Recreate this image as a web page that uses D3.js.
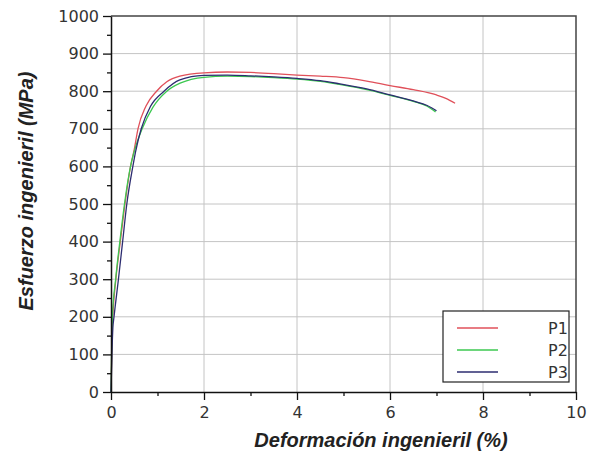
<!DOCTYPE html>
<html>
<head>
<meta charset="utf-8">
<script src="https://cdn.jsdelivr.net/npm/d3@7"></script>
<style>
  html, body { margin: 0; padding: 0; background: #fff; }
  svg { display: block; font-family: "Liberation Sans", Arial, sans-serif; }
</style>
</head>
<body>
<svg id="chart" width="595" height="452"></svg>
<script>
// Tensile test curves: engineering strain (%) vs engineering stress (MPa)
const seriesNames = ["P1", "P2", "P3"];
const seriesColors = ["#e0505a", "#3cc850", "#2c2c70"];

const p1Strain = [0, 0.01, 0.02, 0.03, 0.05, 0.1, 0.2, 0.3, 0.42, 0.5, 0.58, 0.75, 0.98, 1.2, 1.48, 2.0, 2.5, 3.0, 3.5, 4.0, 4.5, 5.0, 5.5, 6.0, 6.5, 7.0, 7.2, 7.4];
const p1Stress = [0, 70, 130, 180, 225, 295, 400, 500, 600, 645, 700, 760, 800, 825, 840, 849, 851, 850, 847, 843, 840, 836, 827, 815, 804, 790, 781, 768];

const p2Strain = [0, 0.01, 0.03, 0.1, 0.19, 0.29, 0.42, 0.5, 0.67, 0.9, 1.2, 1.5, 2.0, 2.5, 3.0, 3.5, 4.0, 4.5, 5.0, 5.5, 6.0, 6.5, 6.8, 6.98];
const p2Stress = [0, 80, 200, 300, 400, 500, 600, 640, 700, 757, 800, 822, 837, 840, 839, 836, 832, 826, 816, 804, 789, 773, 760, 745];

const p3Strain = [0, 0.02, 0.04, 0.065, 0.16, 0.25, 0.34, 0.47, 0.53, 0.65, 0.85, 1.14, 1.48, 2.0, 2.5, 3.0, 3.5, 4.0, 4.5, 4.9, 5.5, 6.0, 6.5, 6.8, 7.0];
const p3Stress = [0, 100, 170, 200, 300, 400, 500, 600, 640, 700, 760, 800, 830, 842, 843, 841, 838, 834, 828, 820, 806, 790, 774, 762, 748];

const xTickValues = [0, 2, 4, 6, 8, 10];
const xMinorValues = [1, 3, 5, 7, 9];
const yTickValues = [0, 100, 200, 300, 400, 500, 600, 700, 800, 900, 1000];
const yMinorValues = [50, 150, 250, 350, 450, 550, 650, 750, 850, 950];

const xTitle = "Deformación ingenieril (%)";
const yTitle = "Esfuerzo ingenieril (MPa)";

const series = [
  { name: seriesNames[0], color: seriesColors[0], pts: p1Strain.map((s, i) => [s, p1Stress[i]]) },
  { name: seriesNames[1], color: seriesColors[1], pts: p2Strain.map((s, i) => [s, p2Stress[i]]) },
  { name: seriesNames[2], color: seriesColors[2], pts: p3Strain.map((s, i) => [s, p3Stress[i]]) }
];

const svg = d3.select("#chart");
const plotLeft = 111, plotRight = 576, plotTop = 16, plotBottom = 392;
const labelFont = "'DejaVu Sans', Verdana, sans-serif";

const x = d3.scaleLinear().domain([0, 10]).range([plotLeft, plotRight]);
const y = d3.scaleLinear().domain([0, 1000]).range([plotBottom, plotTop]);

// grid
const grid = svg.append("g").attr("stroke", "#c4c4c4").attr("stroke-width", 1);
grid.selectAll("line.gx").data(xTickValues.filter(v => v > 0 && v < 10)).join("line")
  .attr("class", "gx")
  .attr("x1", d => x(d)).attr("x2", d => x(d)).attr("y1", plotTop).attr("y2", plotBottom);
grid.selectAll("line.gy").data(yTickValues.filter(v => v > 0 && v < 1000)).join("line")
  .attr("class", "gy")
  .attr("y1", d => y(d)).attr("y2", d => y(d)).attr("x1", plotLeft).attr("x2", plotRight);

// top / right frame
svg.append("path")
  .attr("d", `M${plotLeft},${plotTop}H${plotRight}V${plotBottom}`)
  .attr("fill", "none").attr("stroke", "#444").attr("stroke-width", 1.5);

// curves
const line = d3.line().x(d => x(d[0])).y(d => y(d[1])).curve(d3.curveMonotoneX);
svg.append("g").selectAll("path").data(series).join("path")
  .attr("d", d => line(d.pts))
  .attr("fill", "none")
  .attr("stroke", d => d.color)
  .attr("stroke-width", 1.3)
  .attr("stroke-linejoin", "round");

// axes
const tickFont = g => g.selectAll("text")
  .attr("font-size", 16).attr("fill", "#333")
  .attr("font-family", labelFont);

const xAxis = svg.append("g").attr("transform", `translate(0,${plotBottom})`)
  .call(d3.axisBottom(x).tickValues(xTickValues).tickFormat(d3.format("d"))
    .tickSize(8).tickPadding(7).tickSizeOuter(0));
xAxis.call(tickFont);
svg.append("g").attr("transform", `translate(0,${plotBottom})`)
  .call(d3.axisBottom(x).tickValues(xMinorValues).tickSize(4).tickFormat("").tickSizeOuter(0))
  .select(".domain").remove();

const yAxis = svg.append("g").attr("transform", `translate(${plotLeft},0)`)
  .call(d3.axisLeft(y).tickValues(yTickValues).tickFormat(d3.format("d"))
    .tickSize(8).tickPadding(4).tickSizeOuter(0));
yAxis.call(tickFont);
svg.append("g").attr("transform", `translate(${plotLeft},0)`)
  .call(d3.axisLeft(y).tickValues(yMinorValues).tickSize(4).tickFormat("").tickSizeOuter(0))
  .select(".domain").remove();

svg.selectAll(".domain").attr("stroke", "#111").attr("stroke-width", 1.5);
svg.selectAll(".tick line").attr("stroke", "#111").attr("stroke-width", 1.3);

// axis titles
svg.append("text")
  .attr("x", 381).attr("y", 447)
  .attr("text-anchor", "middle")
  .attr("font-size", 20).attr("font-weight", "bold").attr("font-style", "italic")
  .attr("fill", "#222")
  .text(xTitle);

svg.append("text")
  .attr("transform", "translate(33,191) rotate(-90)")
  .attr("text-anchor", "middle")
  .attr("font-size", 20).attr("font-weight", "bold").attr("font-style", "italic")
  .attr("fill", "#222")
  .text(yTitle);

// legend
const legend = svg.append("g");
legend.append("rect")
  .attr("x", 443).attr("y", 311).attr("width", 126).attr("height", 71)
  .attr("fill", "#fff").attr("stroke", "#222").attr("stroke-width", 1.2);
const rows = legend.selectAll("g.row").data(series).join("g")
  .attr("class", "row")
  .attr("transform", (d, i) => `translate(0,${328 + i * 22})`);
rows.append("line")
  .attr("x1", 457).attr("x2", 498).attr("y1", 0).attr("y2", 0)
  .attr("stroke", d => d.color).attr("stroke-width", 1.3);
rows.append("text")
  .attr("x", 548).attr("y", 6)
  .attr("font-size", 16).attr("fill", "#333")
  .attr("font-family", labelFont)
  .text(d => d.name);
</script>
</body>
</html>
